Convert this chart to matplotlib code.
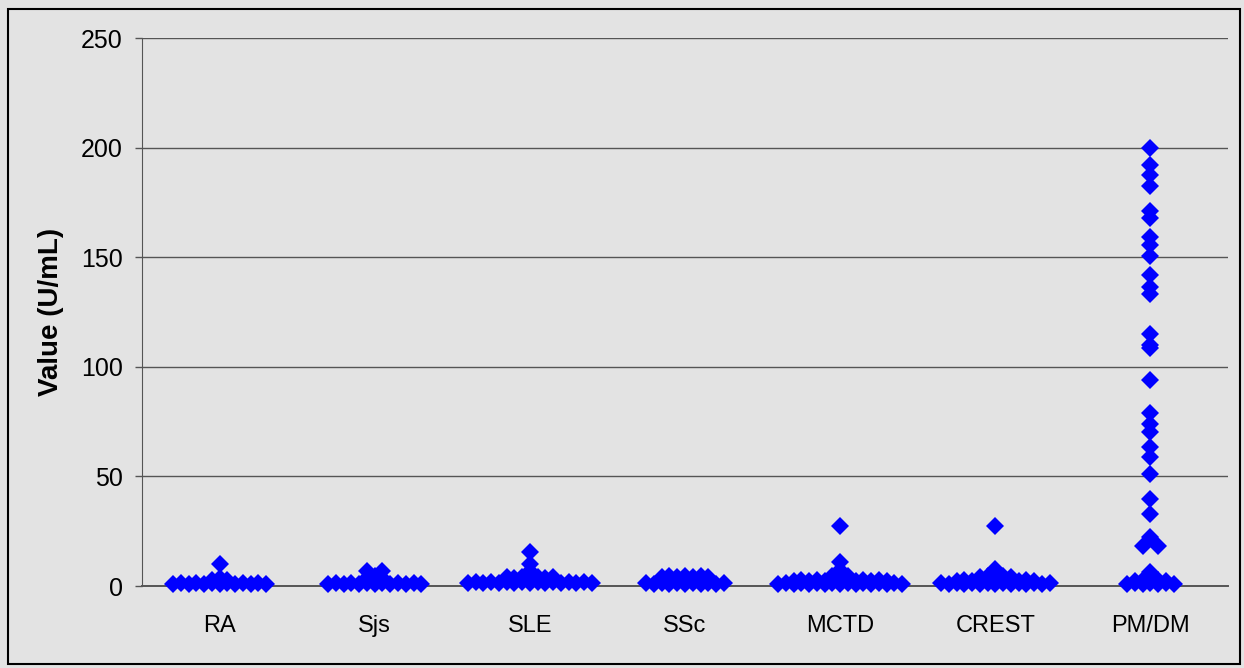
import matplotlib
matplotlib.use('Agg')
from collections import Counter
import matplotlib.pyplot as plt
from matplotlib.patches import Rectangle

plt.rcParams['font.family'] = ['Liberation Sans', 'DejaVu Sans']

groups = ['RA', 'Sjs', 'SLE', 'SSc', 'MCTD', 'CREST', 'PM/DM']

ra = [10, 3.5, 2.8, 2.8] + [1.3] * 6 + [0.9] * 7
sjs = [7, 7, 4.5, 3.5, 3.5] + [1.4] * 6 + [1.0] * 7
sle = [15.5, 10, 7] + [4.2] * 4 + [3.6] * 3 + [1.9] * 8 + [1.5] * 9
ssc = [4.4] * 3 + [4.0] * 4 + [1.2] * 6 + [0.8] * 5
mctd = [27.5, 11, 7.5, 4.9, 4.5, 4.5] + [2.9] * 6 + [2.5] * 7 + [1.2] * 8 + [0.8] * 9
crest = [27.5, 7.8] + [4.7] * 2 + [4.3] * 3 + [2.9] * 5 + [2.5] * 6 + [1.2] * 8 + [0.8] * 7
pmdm = [200, 192, 187.5, 182.5, 171, 168, 159, 155.5, 150.5, 142, 136.5, 133,
        115, 110, 108.5, 94, 79, 74, 70.4, 63.6, 59, 51, 39.5, 33, 22.5,
        18.4, 18.4, 6.5] + [2.9] * 2 + [2.5] * 3 + [1.4] * 3 + [1.0] * 4

data = [ra, sjs, sle, ssc, mctd, crest, pmdm]


def spread(values, step=0.1):
    # equal values sit side by side around the group centre
    counts = Counter(values)
    seen = {}
    out = []
    for v in values:
        i = seen.get(v, 0)
        seen[v] = i + 1
        out.append((i - (counts[v] - 1) / 2) * step)
    return out


bg = '#e3e3e3'
fig = plt.figure(figsize=(12.44, 6.68), dpi=100, facecolor=bg)
ax = fig.add_axes([142 / 1244, 1 - 586 / 668, 1086 / 1244, 548 / 668])
ax.set_facecolor(bg)

for k, vals in enumerate(data):
    xs = [k + 1 + d for d in spread(vals)]
    ax.plot(xs, vals, linestyle='none', marker='D', markersize=8.8,
            markeredgewidth=0, color='#0000ff', clip_on=False, zorder=3)

ax.set_xlim(0.5, 7.5)
ax.set_ylim(0, 250)
ax.set_yticks(range(0, 251, 50))
ax.set_xticks(range(1, 8))
ax.set_xticklabels(groups)

ax.yaxis.grid(True, color='#555555', linewidth=1.0)
ax.set_axisbelow(True)
for s in ['top', 'right']:
    ax.spines[s].set_visible(False)
ax.spines['left'].set_color('#555555')
ax.spines['bottom'].set_color('#555555')
ax.spines['bottom'].set_linewidth(1.4)

ax.tick_params(axis='y', direction='out', length=5, width=1, color='#555555',
               labelsize=18, pad=9)
ax.tick_params(axis='x', length=0, labelsize=17, pad=21)

ax.set_ylabel('Value (U/mL)', fontsize=20, fontweight='bold', labelpad=12)

fig.patches.append(Rectangle((8 / 1244, 1 - 664 / 668), 1232 / 1244, 655 / 668,
                             transform=fig.transFigure, fill=False,
                             edgecolor='black', linewidth=1.5))

fig.savefig('out.png', dpi=100, facecolor=bg)
